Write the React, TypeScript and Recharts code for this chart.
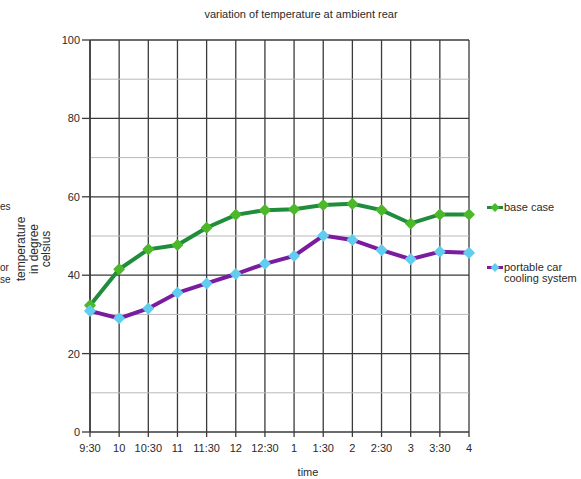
import React from 'react';
import { LineChart, Line, XAxis, YAxis, CartesianGrid, ReferenceLine, Legend } from 'recharts';

const times = ['9:30', '10', '10:30', '11', '11:30', '12', '12:30', '1', '1:30', '2', '2:30', '3', '3:30', '4'];
const baseCase = [32.3, 41.5, 46.6, 47.7, 52.1, 55.4, 56.6, 56.8, 57.9, 58.2, 56.6, 53.2, 55.5, 55.5];
const portableCooling = [30.9, 29.0, 31.5, 35.5, 37.9, 40.3, 42.9, 44.9, 50.1, 49.0, 46.4, 44.1, 46.0, 45.7];
const yTicks = [0, 20, 40, 60, 80, 100];
const majorLines = [20, 40, 60, 80, 100];
const minorLines = [10, 30, 50, 70, 90];
const edgeFragments = ['es', 'or', 'se'];

const data = times.map((t, i) => ({ time: t, base: baseCase[i], portable: portableCooling[i] }));

const FONT = '"Liberation Sans", Arial, Helvetica, sans-serif';
const TEXT = '#2a2a2a';

const GREEN_LINE = '#1f8d3b';
const GREEN_DOT = '#4cb82a';
const PURPLE_LINE = '#7a1ca0';
const CYAN_DOT = '#62cdee';

const makeDot = (fill: string) => (props: any) => {
  const { cx, cy, index } = props;
  if (cx == null || cy == null) return <g key={index} />;
  const r = 5;
  return (
    <path
      key={index}
      d={`M${cx},${cy - r}L${cx + r},${cy}L${cx},${cy + r}L${cx - r},${cy}Z`}
      fill={fill}
      stroke={fill}
      strokeWidth={1.5}
      strokeLinejoin="round"
    />
  );
};

const LegendMarker = ({ line, dot }: { line: string; dot: string }) => (
  <svg width={16} height={11} style={{ display: 'block', flex: 'none' }}>
    <line x1={0} y1={5.5} x2={16} y2={5.5} stroke={line} strokeWidth={3} />
    <path d="M8,1L12.5,5.5L8,10L3.5,5.5Z" fill={dot} />
  </svg>
);

const renderLegend = () => (
  <div style={{ fontFamily: FONT, fontSize: 11, lineHeight: '11px', color: TEXT, width: 94 }}>
    <div style={{ display: 'flex', alignItems: 'flex-start', gap: 1 }}>
      <LegendMarker line={GREEN_LINE} dot={GREEN_DOT} />
      <div>base case</div>
    </div>
    <div style={{ display: 'flex', alignItems: 'flex-start', gap: 1, marginTop: 49 }}>
      <LegendMarker line={PURPLE_LINE} dot={CYAN_DOT} />
      <div>
        portable car
        <br />
        cooling system
      </div>
    </div>
  </div>
);

const fragmentTops = [201, 262, 274];

export default function App() {
  return (
    <div style={{ position: 'relative', width: 581, height: 479, background: '#fff', overflow: 'hidden' }}>
      <style>{'body{margin:0;background:#fff;}'}</style>
      <div
        style={{
          position: 'absolute',
          left: 0,
          top: 8,
          width: 602,
          textAlign: 'center',
          fontFamily: FONT,
          fontSize: 11,
          lineHeight: '12px',
          color: TEXT,
        }}
      >
        variation of temperature at ambient rear
      </div>
      <div
        style={{
          position: 'absolute',
          left: -6,
          top: 230,
          width: 80,
          height: 38,
          textAlign: 'center',
          fontFamily: FONT,
          fontSize: 12,
          lineHeight: '12.5px',
          color: TEXT,
          transform: 'rotate(-90deg)',
          transformOrigin: '40px 19px',
        }}
      >
        temperature
        <br />
        in degree
        <br />
        celsius
      </div>
      {edgeFragments.map((t, i) => (
        <div
          key={t}
          style={{
            position: 'absolute',
            left: 0,
            top: fragmentTops[i],
            fontFamily: FONT,
            fontSize: 10,
            lineHeight: '12px',
            color: TEXT,
          }}
        >
          {t}
        </div>
      ))}
      <div
        style={{
          position: 'absolute',
          left: 258,
          top: 466,
          width: 100,
          textAlign: 'center',
          fontFamily: FONT,
          fontSize: 11,
          lineHeight: '12px',
          color: TEXT,
        }}
      >
        time
      </div>
      <div style={{ position: 'absolute', left: 0, top: 0 }}>
        <LineChart width={581} height={479} data={data} margin={{ top: 40, right: 112, bottom: 17, left: 50 }}>
          <CartesianGrid vertical horizontal={false} stroke="#3a3a3a" strokeWidth={1.3} />
          {minorLines.map((v) => (
            <ReferenceLine key={`mn${v}`} y={v} stroke="#b8b8b8" strokeWidth={1} />
          ))}
          {majorLines.map((v) => (
            <ReferenceLine key={`mj${v}`} y={v} stroke="#3a3a3a" strokeWidth={1.3} />
          ))}
          <XAxis
            dataKey="time"
            height={30}
            interval={0}
            tickSize={5}
            tickMargin={7}
            axisLine={{ stroke: '#3a3a3a', strokeWidth: 1.5 }}
            tickLine={{ stroke: '#3a3a3a', strokeWidth: 1.3 }}
            tick={{ fill: TEXT, fontSize: 11, fontFamily: FONT }}
          />
          <YAxis
            width={40}
            domain={[0, 100]}
            ticks={yTicks}
            interval={0}
            tickSize={8}
            tickMargin={2}
            axisLine={{ stroke: '#3a3a3a', strokeWidth: 1.5 }}
            tickLine={{ stroke: '#3a3a3a', strokeWidth: 1.3 }}
            tick={{ fill: TEXT, fontSize: 11, fontFamily: FONT }}
          />
          <Legend
            layout="vertical"
            align="center"
            verticalAlign="middle"
            content={renderLegend}
            wrapperStyle={{ left: 487, top: 202, width: 94 }}
          />
          <Line
            type="linear"
            dataKey="base"
            name="base case"
            stroke={GREEN_LINE}
            strokeWidth={4}
            dot={makeDot(GREEN_DOT)}
            activeDot={false}
            isAnimationActive={false}
          />
          <Line
            type="linear"
            dataKey="portable"
            name="portable car cooling system"
            stroke={PURPLE_LINE}
            strokeWidth={4}
            dot={makeDot(CYAN_DOT)}
            activeDot={false}
            isAnimationActive={false}
          />
        </LineChart>
      </div>
    </div>
  );
}
